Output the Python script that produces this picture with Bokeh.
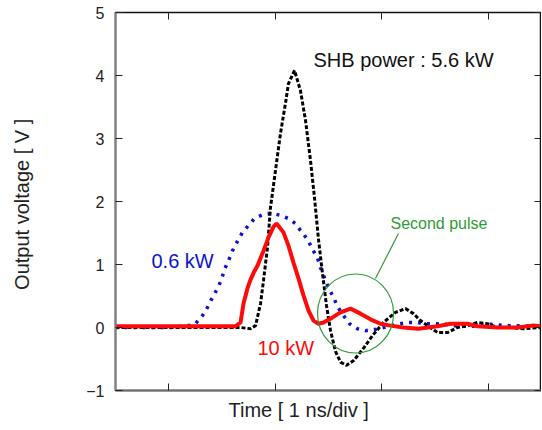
from bokeh.plotting import figure
from bokeh.models import Range1d, FixedTicker, LinearAxis, Label, Title, CustomJSTickFormatter
from bokeh.embed import file_html
from bokeh.resources import INLINE

# ---- data (time in ns, voltage in V) ----
t_shb56 = [0.0, 1.174, 1.268, 1.315, 1.362, 1.390, 1.427, 1.455, 1.502, 1.549, 1.596, 1.624,
           1.681, 1.737, 1.784, 1.831, 1.869, 1.906, 1.944, 1.981, 2.019, 2.066, 2.113, 2.169,
           2.239, 2.333, 2.413, 2.516, 2.629, 2.723, 2.798, 2.864, 2.930, 3.023, 3.117, 3.211,
           3.305, 3.399, 3.493, 3.587, 3.709, 3.831, 3.991]
v_shb56 = [0.0, 0.0, -0.02, 0.03, 0.38, 0.75, 1.27, 1.90, 2.49, 3.08, 3.56, 3.87,
           4.08, 3.76, 3.29, 2.65, 2.05, 1.40, 0.85, 0.35, -0.05, -0.38, -0.55, -0.60,
           -0.52, -0.32, -0.13, 0.08, 0.24, 0.30, 0.22, 0.11, 0.03, -0.08, -0.08, 0.0,
           0.03, 0.08, 0.06, 0.0, 0.0, -0.02, 0.0]

t_shb06 = [0.0, 0.516, 0.685, 0.751, 0.817, 0.864, 0.911, 0.958, 0.995, 1.023, 1.061, 1.099,
           1.146, 1.192, 1.249, 1.305, 1.380, 1.474, 1.549, 1.624, 1.690, 1.737, 1.803, 1.850,
           1.897, 1.925, 1.962, 2.000, 2.047, 2.085, 2.141, 2.197, 2.272, 2.347, 2.441, 2.516,
           2.667, 2.751, 2.836, 2.911, 3.005, 3.099, 3.174, 3.268, 3.352, 3.521, 3.690, 3.962]
v_shb06 = [0.0, 0.0, 0.03, 0.06, 0.19, 0.32, 0.48, 0.62, 0.76, 0.92, 1.06, 1.22,
           1.37, 1.51, 1.62, 1.73, 1.79, 1.81, 1.78, 1.73, 1.65, 1.54, 1.40, 1.24,
           1.10, 0.95, 0.79, 0.63, 0.48, 0.33, 0.19, 0.06, -0.02, -0.05, -0.03, 0.0,
           0.06, 0.08, 0.08, 0.06, 0.06, 0.05, 0.03, 0.02, 0.02, 0.05, 0.03, 0.02]

t_shb10 = [0.0, 1.127, 1.174, 1.202, 1.239, 1.268, 1.300, 1.333, 1.390, 1.437, 1.484, 1.512,
           1.577, 1.624, 1.671, 1.718, 1.765, 1.812, 1.859, 1.906, 1.953, 2.038, 2.113, 2.207,
           2.300, 2.394, 2.488, 2.582, 2.704, 2.845, 3.023, 3.146, 3.305, 3.399, 3.587, 3.775,
           3.915, 3.991]
v_shb10 = [0.02, 0.02, 0.08, 0.38, 0.62, 0.76, 0.88, 0.98, 1.22, 1.43, 1.60, 1.65,
           1.51, 1.30, 1.03, 0.78, 0.51, 0.27, 0.11, 0.06, 0.08, 0.16, 0.24, 0.30,
           0.22, 0.13, 0.06, 0.03, 0.0, -0.02, 0.02, 0.06, 0.06, 0.02, 0.0, 0.0,
           0.03, 0.02]

y_ticks = [-1, 0, 1, 2, 3, 4, 5]
x_ticks = [0.5, 1.5, 2.5, 3.5]

# annotation positions (data units)
circle_x, circle_y, circle_w, circle_h = 2.254, 0.222, 0.714, 1.254
leader_x0, leader_y0, leader_x1, leader_y1 = 2.441, 0.778, 2.657, 1.492

FONT = "Liberation Sans"
BLUE = "#0a14cc"
RED = "#ff0a0a"
GREEN = "#2f9a35"

p = figure(frame_width=426, frame_height=378,
           x_range=Range1d(0, 4), y_range=Range1d(-1, 5),
           output_backend="svg", toolbar_location=None,
           min_border_left=115, min_border_right=0, min_border_top=12, min_border_bottom=38)
p.xgrid.visible = False
p.ygrid.visible = False
p.background_fill_color = "white"
p.border_fill_color = "white"
p.outline_line_color = "#111111"
p.outline_line_width = 1.5

# left axis
ya = p.yaxis[0]
ya.ticker = FixedTicker(ticks=y_ticks)
ya.major_tick_in = 7
ya.major_tick_out = 0
ya.minor_tick_line_color = None
ya.axis_line_color = "#808080"
ya.axis_line_width = 2
ya.major_tick_line_color = "#222222"
ya.major_label_text_font = FONT
ya.major_label_text_font_size = "16px"
ya.major_label_text_color = "#222222"
ya.major_label_standoff = 11
ya.axis_label = "Output voltage  [ V ]"
ya.axis_label_text_font = FONT
ya.axis_label_text_font_size = "20px"
ya.axis_label_text_font_style = "normal"
ya.axis_label_text_color = "#222222"
ya.axis_label_standoff = 50

blank = CustomJSTickFormatter(code="return '';")

# bottom axis
xa = p.xaxis[0]
xa.ticker = FixedTicker(ticks=x_ticks)
xa.major_tick_in = 7
xa.major_tick_out = 0
xa.minor_tick_line_color = None
xa.axis_line_color = "#707070"
xa.axis_line_width = 2
xa.major_tick_line_color = "#222222"
xa.formatter = blank
xa.major_label_text_font_size = "0px"
xa.major_label_standoff = 0

# x-axis title, placed below the axis
p.add_layout(Title(text="Time  [ 1 ns/div ]", align="left", offset=113, standoff=13,
                   text_font=FONT, text_font_size="20px", text_font_style="normal",
                   text_color="#222222"), "below")

# top and right axes (ticks only)
top = LinearAxis(ticker=FixedTicker(ticks=x_ticks), formatter=blank,
                 major_tick_in=7, major_tick_out=0, minor_tick_line_color=None,
                 major_label_text_font_size="0px", major_label_standoff=0,
                 axis_line_color="#111111", major_tick_line_color="#222222")
p.add_layout(top, "above")
right = LinearAxis(ticker=FixedTicker(ticks=y_ticks), formatter=blank,
                   major_tick_in=7, major_tick_out=0, minor_tick_line_color=None,
                   major_label_text_font_size="0px", major_label_standoff=0,
                   axis_line_color="#111111", major_tick_line_color="#222222")
p.add_layout(right, "right")

# curves
p.line(t_shb06, v_shb06, line_color=BLUE, line_width=3.5, line_dash="3 6")
p.line(t_shb56, v_shb56, line_color="black", line_width=3, line_dash="4 2")
p.line(t_shb10, v_shb10, line_color=RED, line_width=4)

# second pulse circle and leader
p.ellipse(x=[circle_x], y=[circle_y], width=[circle_w], height=[circle_h],
          fill_color=None, line_color=GREEN, line_width=1.2)
p.segment(x0=[leader_x0], y0=[leader_y0], x1=[leader_x1], y1=[leader_y1],
          line_color=GREEN, line_width=1.2)

# text labels
def lab(x, y, text, color, size, align="left"):
    p.add_layout(Label(x=x, y=y, text=text, text_color=color, text_font=FONT,
                       text_font_size=size, text_baseline="middle", text_align=align))

lab(1.859, 4.24, "SHB power : 5.6 kW", "#111111", "20px")
lab(0.338, 1.06, "0.6 kW", BLUE, "20px")
lab(1.333, -0.32, "10 kW", RED, "20px")
lab(2.582, 1.651, "Second pulse", GREEN, "16px")

open("out.html", "w").write(file_html(p, INLINE))
